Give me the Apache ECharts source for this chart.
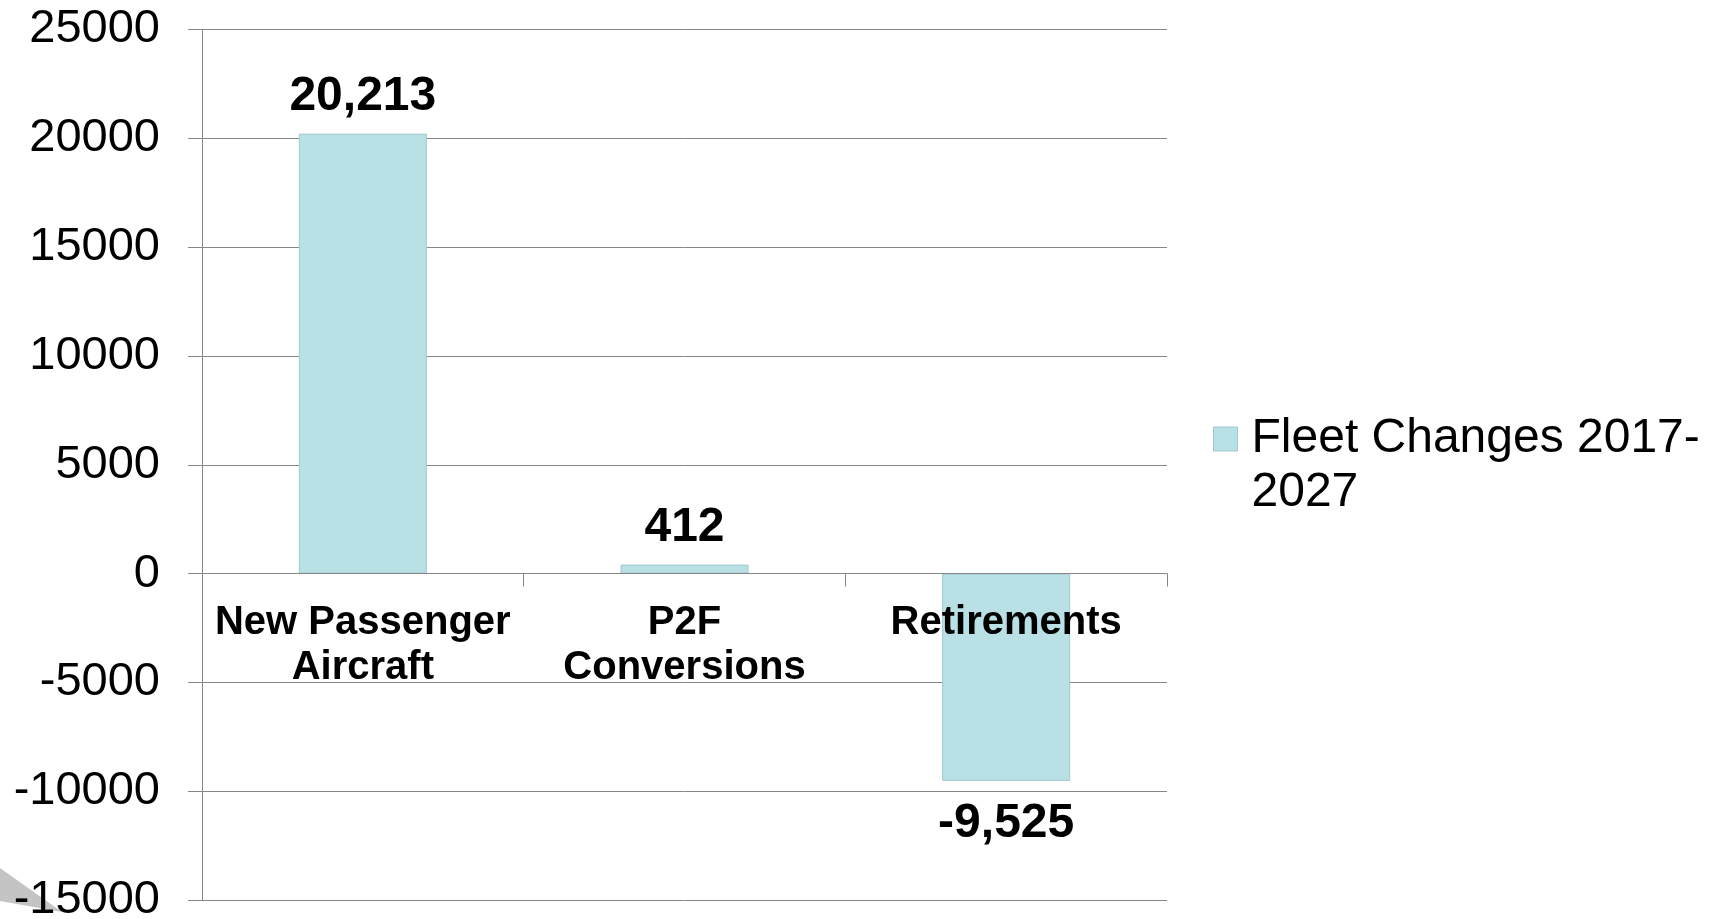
<!DOCTYPE html>
<html>
<head>
<meta charset="utf-8">
<script src="https://cdn.jsdelivr.net/npm/echarts@6/dist/echarts.min.js"></script>
<style>
  html, body { margin: 0; padding: 0; background: #fff; }
  #chart { width: 1716px; height: 919px; }
</style>
</head>
<body>
<div id="chart"></div>
<script>
// 数据
const categories = ['New Passenger\nAircraft', 'P2F\nConversions', 'Retirements']
const fleetChanges = [20213, 412, -9525]
const seriesName = 'Fleet Changes 2017-\n2027'
const yTicks = { min: -15000, max: 25000, interval: 5000 }

const font = '"Liberation Sans", Arial, sans-serif'
const gridColor = '#868686'

const myChart = echarts.init(document.getElementById('chart'))

const option = {
  backgroundColor: '#fff',
  animation: false,
  textStyle: { fontFamily: font },
  grid: {
    left: 202,
    right: 549,
    top: 29.5,
    bottom: 19,
    outerBoundsMode: 'none',
    containLabel: false
  },
  legend: {
    show: true,
    left: 1213,
    top: 361,
    padding: 0,
    itemWidth: 24,
    itemHeight: 24,
    icon: 'rect',
    itemStyle: { borderColor: '#9fc9ce', borderWidth: 1 },
    // 空的第一行让图标对齐第一行文字
    formatter: name => '{s| }\n' + name.split('\n').map(l => '{a|' + l + '}').join('\n'),
    textStyle: {
      color: '#000',
      rich: {
        s: { fontFamily: font, fontSize: 48, lineHeight: 54 },
        a: { fontFamily: font, fontSize: 48, lineHeight: 54, color: '#000', padding: [0, 0, 0, 9] }
      }
    },
    data: [seriesName]
  },
  xAxis: {
    type: 'category',
    data: categories,
    offset: 0,
    z: 5,
    axisLine: { onZero: false, lineStyle: { color: gridColor, width: 1 } },
    axisTick: { show: true, length: 13, interval: 0, lineStyle: { color: gridColor } },
    axisLabel: {
      interval: 0,
      margin: 27,
      color: '#000',
      fontFamily: font,
      fontWeight: 'bold',
      fontSize: 40,
      lineHeight: 45
    }
  },
  yAxis: {
    type: 'value',
    min: yTicks.min,
    max: yTicks.max,
    interval: yTicks.interval,
    axisLine: { show: true, lineStyle: { color: gridColor, width: 1 } },
    axisTick: { show: true, length: 14, lineStyle: { color: gridColor } },
    axisLabel: {
      margin: 42,
      color: '#000',
      fontFamily: font,
      fontSize: 47,
      formatter: v => String(v)
    },
    splitLine: { show: true, lineStyle: { color: gridColor, width: 1 } }
  },
  graphic: [
    {
      // 左下角的灰色装饰
      type: 'polygon',
      silent: true,
      z: -1,
      shape: { points: [[0, 868], [62, 912], [0, 901]] },
      style: { fill: '#c4c4c4' }
    }
  ],
  series: [
    {
      name: seriesName,
      type: 'bar',
      barWidth: 128,
      itemStyle: { color: '#b9e0e4', borderColor: '#9fc9ce', borderWidth: 1 },
      label: {
        show: true,
        color: '#000',
        fontFamily: font,
        fontWeight: 'bold',
        fontSize: 48,
        formatter: p => p.value.toLocaleString('en-US')
      },
      data: fleetChanges.map(v => ({
        value: v,
        label: { position: v < 0 ? 'bottom' : 'top', distance: v < 0 ? 19 : 13 }
      }))
    }
  ]
}

myChart.setOption(option)

// x轴移到0的位置（标签跟着移动）
const zeroY = myChart.convertToPixel({ yAxisIndex: 0 }, 0)
const bottomY = myChart.convertToPixel({ yAxisIndex: 0 }, yTicks.min)
myChart.setOption({ xAxis: { offset: zeroY - bottomY } })

window.addEventListener('resize', () => {
  myChart.resize()
})
</script>
</body>
</html>
